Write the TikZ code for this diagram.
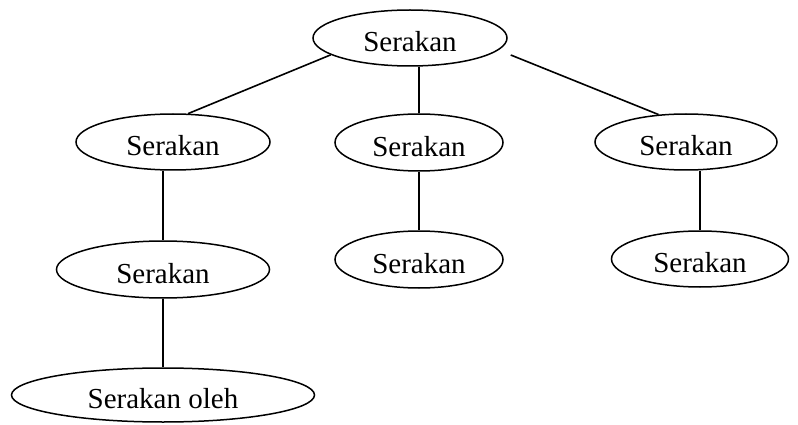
\documentclass[tikz,border=0pt]{standalone}
\usepackage{fontspec}
\setmainfont{Liberation Serif}
\usetikzlibrary{shapes.geometric}
\begin{document}
\begin{tikzpicture}[x=1pt,y=-1pt,
  ell/.style={ellipse, draw, line width=1.5pt, inner sep=0pt,
    text height=27.5pt, text depth=0pt,
    font=\fontsize{29}{31}\selectfont},
  link/.style={line width=1.6pt}]
\useasboundingbox (0,0) rectangle (798,425);
% nodes
\node[ell, minimum width=194pt, minimum height=56pt] (root) at (410,38) {Serakan};
\node[ell, minimum width=194pt, minimum height=56pt] (a) at (173,142) {Serakan};
\node[ell, minimum width=168pt, minimum height=57pt] (b) at (419,142.5) {Serakan};
\node[ell, minimum width=182pt, minimum height=56pt] (c) at (686,142) {Serakan};
\node[ell, minimum width=213pt, minimum height=57pt] (a2) at (163,269.5) {Serakan};
\node[ell, minimum width=168pt, minimum height=57pt] (b2) at (419,259.5) {Serakan};
\node[ell, minimum width=177pt, minimum height=56pt] (c2) at (700,259) {Serakan};
\node[ell, minimum width=303pt, minimum height=54pt] (a3) at (163,395) {Serakan oleh};
% the right-hand edge from the root starts just off its outline
\path (root.east) ++(3,17) coordinate (rootright);
% connectors
\draw[link] (root.192) -- (a.62);
\draw[link] (root.south -| b.north) -- (b.north);
\draw[link] (rootright) -- (c.135);
\draw[link] (a.south -| a2.north) -- (a2.north);
\draw[link] (b.south) -- (b2.north);
\draw[link] (c.south -| c2.north) -- (c2.north);
\draw[link] (a2.south) -- (a3.north);
\end{tikzpicture}
\end{document}
